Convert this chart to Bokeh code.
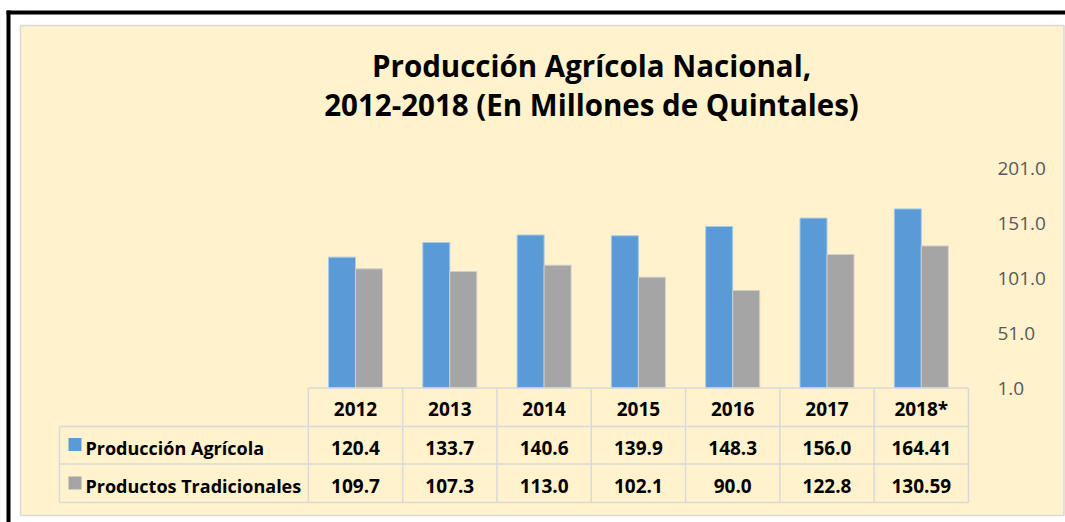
from bokeh.plotting import figure
from bokeh.models import Range1d, LinearAxis, FixedTicker, NumeralTickFormatter
from bokeh.core.properties import value
from bokeh.embed import file_html
from bokeh.resources import INLINE

# ---------------- data ----------------
years = ["2012", "2013", "2014", "2015", "2016", "2017", "2018*"]
produccion_agricola = [120.4, 133.7, 140.6, 139.9, 148.3, 156.0, 164.41]
productos_tradicionales = [109.7, 107.3, 113.0, 102.1, 90.0, 122.8, 130.59]
series_names = ["Producción Agrícola", "Productos Tradicionales"]
y_ticks = [1.0, 51.0, 101.0, 151.0, 201.0]
title_lines = ["Producción Agrícola Nacional,", "2012-2018 (En Millones de Quintales)"]

# ---------------- layout (page pixels) ----------------
W, H = 1065, 522
LEFT, TOP = 0, 0
X_CAT0, COL_W = 355.0, 94.3
Y_BASE, PX_UNIT = 387.5, 1.096
Y_MIN = y_ticks[0]
TXT_SHIFT = 0.42  # baseline correction, in em

def dx(px):
    return (px - X_CAT0) / COL_W

def dy(py):
    return Y_MIN + (Y_BASE - py) / PX_UNIT

def tb(py, size):
    # text baseline position, corrected for the renderer's baseline offset
    return dy(py - TXT_SHIFT * size)

CREAM = "#FFF2CC"
GRID = "#D9D9D9"
BLUE = "#5B9BD5"
GRAY = "#A5A5A5"
FONT = value("Open Sans")

p = figure(width=W, height=H, output_backend="svg", toolbar_location=None,
           x_range=Range1d(dx(LEFT), dx(LEFT + W)),
           y_range=Range1d(dy(TOP + H), dy(TOP)),
           x_axis_location=None, y_axis_location=None,
           min_border=0)
p.grid.visible = False
p.outline_line_color = None
p.background_fill_color = "white"
p.border_fill_color = "white"

# chart area (cream with light grey border)
p.quad(left=[dx(20)], right=[dx(1063.5)], top=[dy(25)], bottom=[dy(515)],
       fill_color=CREAM, line_color=GRID, line_width=1.5)
# black outer border
p.quad(left=[dx(6), dx(6)], right=[dx(1080), dx(10)], top=[dy(10), dy(10)],
       bottom=[dy(14), dy(540)], fill_color="black", line_color=None)

# title
TS = 29.5
p.text(x=[dx(591)] * 2, y=[tb(77, TS), tb(116, TS)], text=title_lines,
       text_font=FONT, text_font_style="bold", text_font_size=f"{TS}px",
       text_align="center", text_baseline="alphabetic", text_color="black")

# bars
idx = list(range(len(years)))
bw = 27.0 / COL_W
p.vbar(x=[i - bw / 2 for i in idx], width=bw, bottom=Y_MIN, top=produccion_agricola,
       fill_color=BLUE, line_color="#A9C9EA", line_width=1)
p.vbar(x=[i + bw / 2 for i in idx], width=bw, bottom=Y_MIN, top=productos_tradicionales,
       fill_color=GRAY, line_color="#CFCFCF", line_width=1)

# data table
n = len(years)
row_px = [Y_BASE, 426, 463.5, 502]
legend_left = 59
segs = dict(x0=[], y0=[], x1=[], y1=[])
def seg(a, b, c, d):
    segs["x0"].append(a); segs["y0"].append(b); segs["x1"].append(c); segs["y1"].append(d)
seg(-0.5, dy(row_px[0]), n - 0.5, dy(row_px[0]))
for r in row_px[1:]:
    seg(dx(legend_left), dy(r), n - 0.5, dy(r))
for i in range(n + 1):
    seg(i - 0.5, dy(row_px[0]), i - 0.5, dy(row_px[-1]))
seg(dx(legend_left), dy(row_px[1]), dx(legend_left), dy(row_px[-1]))
p.segment(**segs, line_color=GRID, line_width=1.5)

NS = 19
p.text(x=idx, y=[tb(416, NS)] * n, text=years, text_font=FONT, text_font_style="bold",
       text_font_size=f"{NS}px", text_align="center", text_baseline="alphabetic", text_color="black")
for vals, base in ((produccion_agricola, 455), (productos_tradicionales, 493)):
    p.text(x=idx, y=[tb(base, NS)] * n, text=[str(v) for v in vals], text_font=FONT,
           text_font_style="bold", text_font_size=f"{NS}px", text_align="center",
           text_baseline="alphabetic", text_color="black")

# legend keys and labels
LS = 18
p.quad(left=[dx(68)] * 2, right=[dx(81)] * 2, top=[dy(437.5), dy(476)],
       bottom=[dy(450.5), dy(489)], fill_color=[BLUE, GRAY], line_color=None)
p.text(x=[dx(85)] * 2, y=[tb(455, LS), tb(493, LS)], text=series_names, text_font=FONT,
       text_font_style="bold", text_font_size=f"{LS}px", text_align="left",
       text_baseline="alphabetic", text_color="black")

# value axis on the right (drawn at a fixed location inside the chart area)
ax = LinearAxis(ticker=FixedTicker(ticks=y_ticks), formatter=NumeralTickFormatter(format="0.0"),
                fixed_location=dx(990))
ax.axis_line_color = None
ax.major_tick_line_color = None
ax.minor_tick_line_color = None
ax.major_tick_out = 0
ax.major_tick_in = 0
ax.major_label_standoff = 7
ax.major_label_text_font = "Open Sans"
ax.major_label_text_font_size = "19px"
ax.major_label_text_color = "#595959"
p.add_layout(ax, "right")

open("out.html", "w").write(file_html(p, INLINE))
